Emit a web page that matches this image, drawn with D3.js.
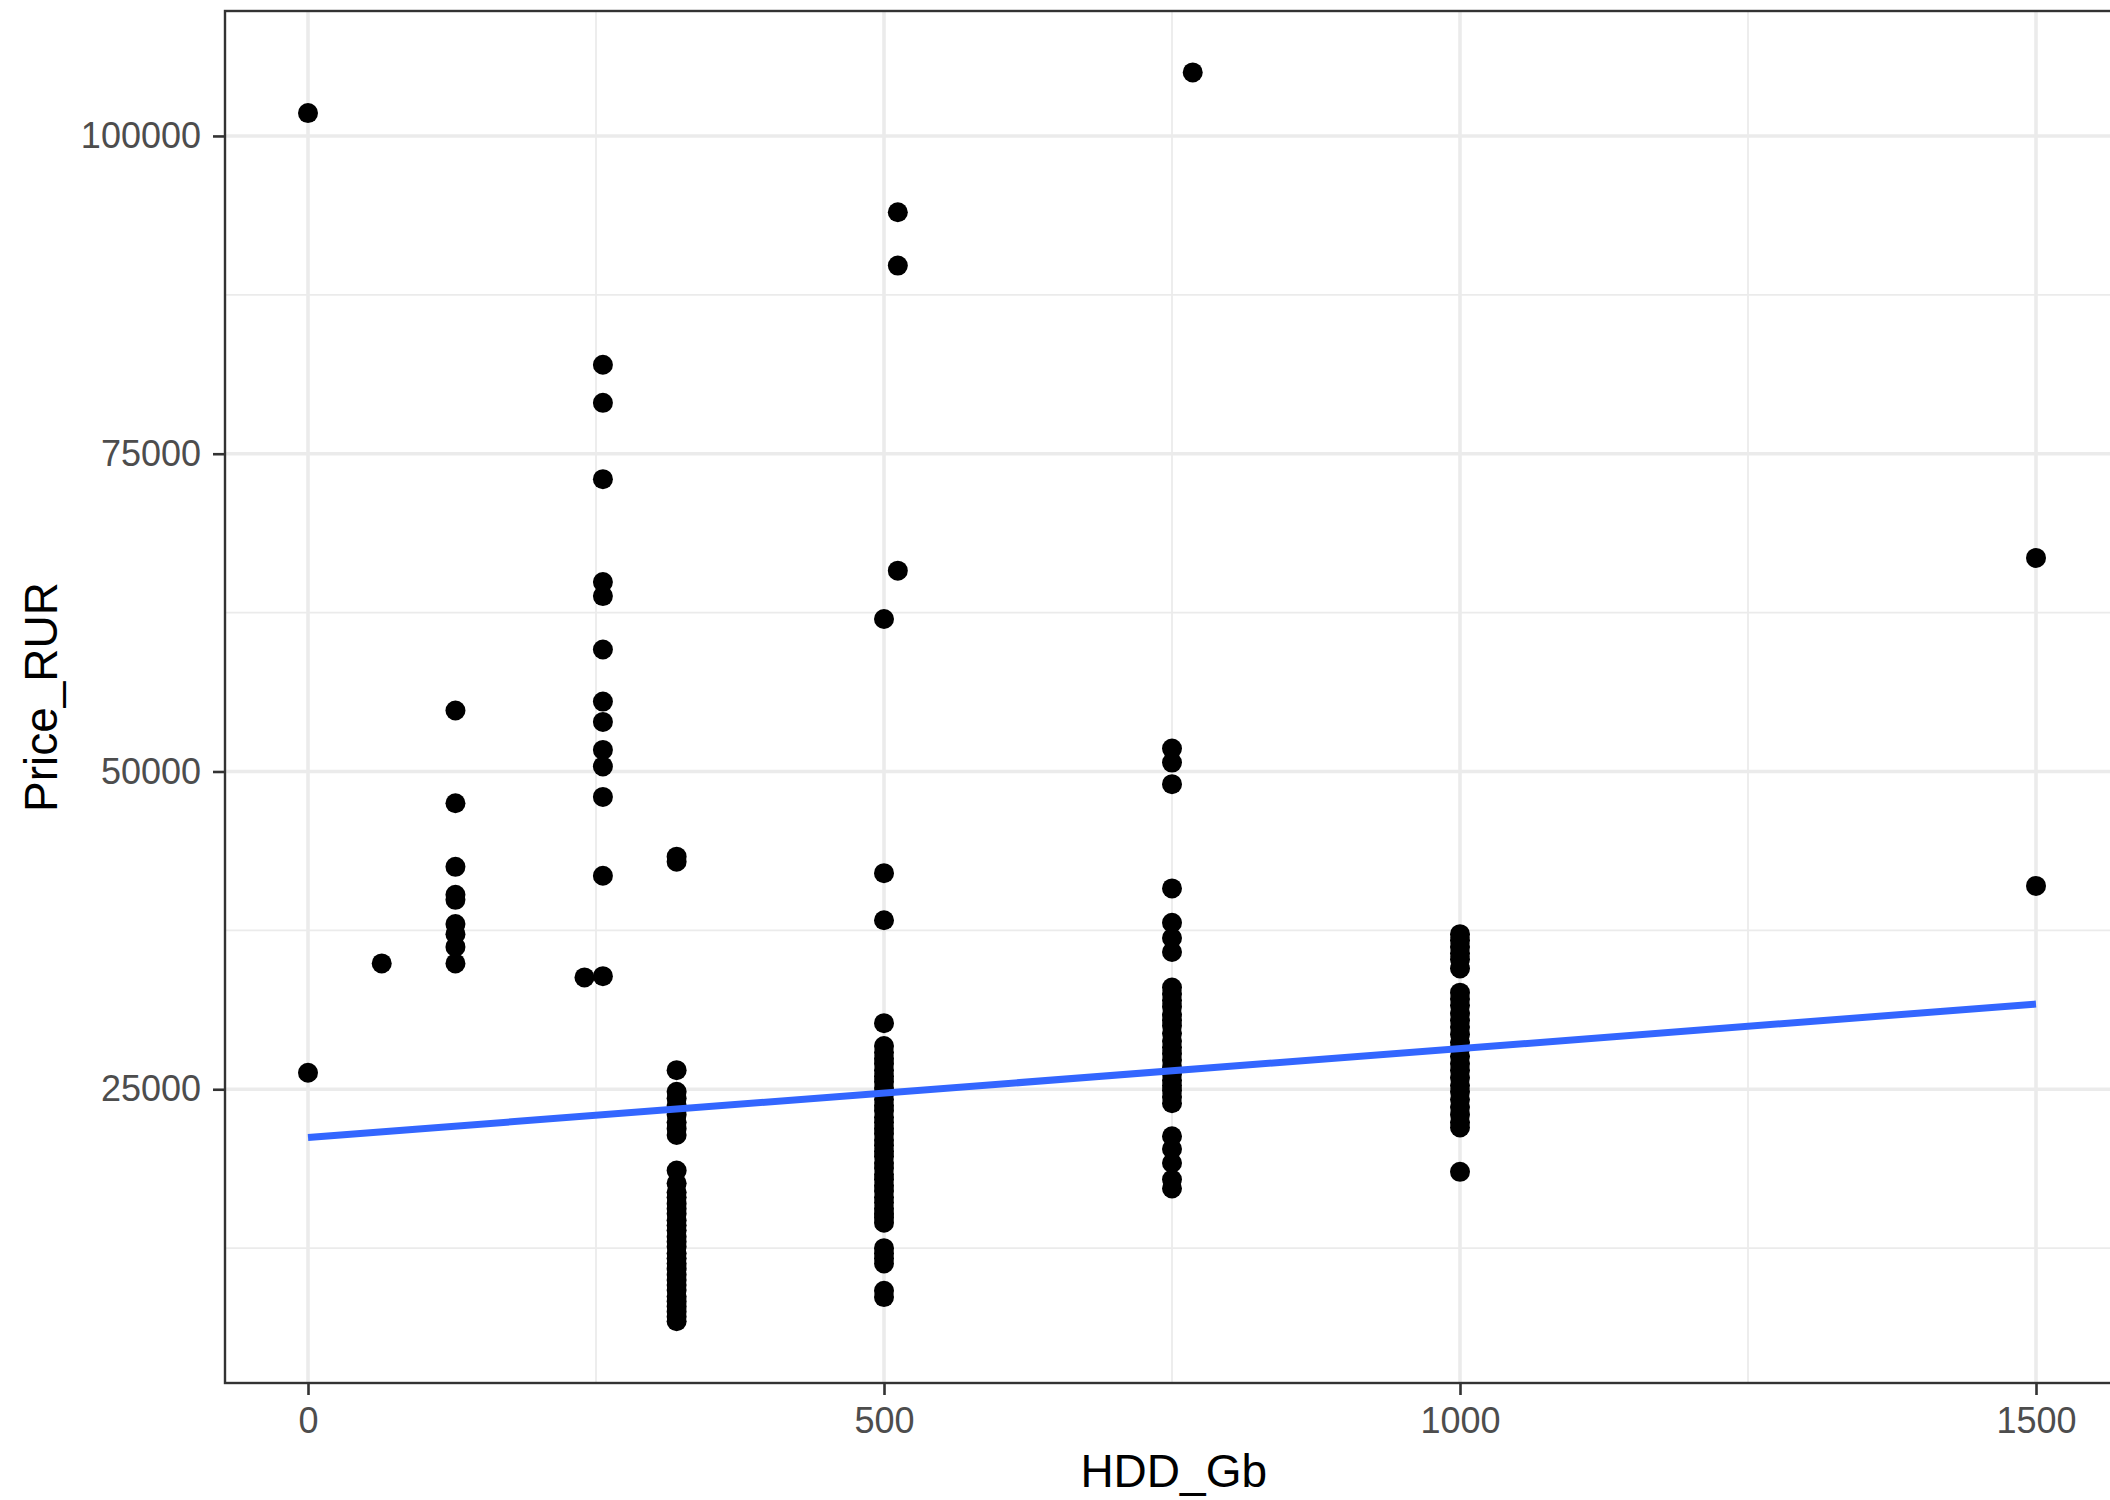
<!DOCTYPE html>
<html>
<head>
<meta charset="utf-8">
<script src="https://d3js.org/d3.v7.min.js"></script>
<style>
body { margin: 0; background: #fff; }
text { font-family: "Liberation Sans", Arial, sans-serif; }
</style>
</head>
<body>
<script>

// prices (RUR), one list per HDD size
var price0 = [101800, 26300];
var price64 = [34900];
var price128 = [54800, 47500, 42500, 40300, 39900, 38000, 37200, 36200, 34900];
var price240 = [33800];
var price256 = [82000, 79000, 73000, 64900, 63800, 59600, 55500, 53900, 51700, 50400, 48000, 41800, 33900];
var price320 = [43300, 42900, 26500, 24800, 24300, 23700, 23000, 22400, 21900, 21400,
  18600, 17600, 16900, 16500, 16000, 15600, 15200, 14700, 14300, 13900, 13400, 13000, 12600,
  12100, 11700, 11300, 10900, 10400, 10000, 9600, 9200, 8700, 8300, 7900, 7500, 7100, 6750];
var price500 = [62000, 42000, 38300, 30200, 28400, 27900, 27400, 27000, 26500, 26000, 25600,
  25100, 24700, 24200, 23700, 23300, 22800, 22400, 21900, 21500, 21000, 20600, 20100, 19700,
  19200, 18800, 18300, 17900, 17400, 17000, 16500, 16100, 15600, 15200, 14900, 14500,
  12500, 12100, 11700, 11300, 9150, 8650];
var price512 = [94000, 89800, 65800];
var price750 = [51800, 50700, 49000, 40800, 38100, 36900, 35800, 33000, 32500, 32000, 31500,
  30900, 30400, 30000, 29400, 28800, 28300, 27800, 27300, 26700, 26200, 25700, 25300, 24900,
  24400, 23900, 21300, 20300, 19200, 17900, 17200];
var price768 = [105000];
var price1000 = [37200, 36700, 36200, 35700, 35200, 34500, 32600, 32100, 31600, 31000, 30400,
  29900, 29300, 28700, 28200, 27600, 27000, 26500, 25900, 25300, 24800, 24200, 23600, 23000,
  22400, 22000, 18500];
var price1500 = [66800, 41000];

var groups = [[0, price0], [64, price64], [128, price128], [240, price240], [256, price256],
  [320, price320], [500, price500], [512, price512], [750, price750], [768, price768],
  [1000, price1000], [1500, price1500]];

// linear fit, ends
var fitHdd = [0, 1500];
var fitPrice = [21200, 31700];

var xTicks = [0, 500, 1000, 1500];
var xMinor = [250, 750, 1250];
var yTicks = [25000, 50000, 75000, 100000];
var yMinor = [12500, 37500, 62500, 87500];

let width = 2110, height = 1500;

var points = [];
groups.forEach(function(g) {
  g[1].forEach(function(p) { points.push({hdd: g[0], price: p}); });
});

var x = d3.scaleLinear().domain([0, 1500]).range([308, 2036]);
var y = d3.scaleLinear().domain([1890, 109830]).range([1383, 11]);
let pLeft = 225, pRight = x(1575), pTop = 11, pBottom = 1383;

var svg = d3.select("body").append("svg").attr("width", width).attr("height", height);

// grid
var grid = svg.append("g");
grid.selectAll(".vminor").data(xMinor).enter().append("line")
  .attr("x1", d => x(d)).attr("x2", d => x(d)).attr("y1", pTop).attr("y2", pBottom)
  .attr("stroke", "#ebebeb").attr("stroke-width", 1.8);
grid.selectAll(".hminor").data(yMinor).enter().append("line")
  .attr("x1", pLeft).attr("x2", pRight).attr("y1", d => y(d)).attr("y2", d => y(d))
  .attr("stroke", "#ebebeb").attr("stroke-width", 1.8);
grid.selectAll(".vmajor").data(xTicks).enter().append("line")
  .attr("x1", d => x(d)).attr("x2", d => x(d)).attr("y1", pTop).attr("y2", pBottom)
  .attr("stroke", "#ebebeb").attr("stroke-width", 3.6);
grid.selectAll(".hmajor").data(yTicks).enter().append("line")
  .attr("x1", pLeft).attr("x2", pRight).attr("y1", d => y(d)).attr("y2", d => y(d))
  .attr("stroke", "#ebebeb").attr("stroke-width", 3.6);

// points
svg.append("g").selectAll("circle").data(points).enter().append("circle")
  .attr("cx", d => x(d.hdd)).attr("cy", d => y(d.price)).attr("r", 10)
  .attr("fill", "#000");

// fit line
var line = d3.line().x(d => x(d[0])).y(d => y(d[1]));
svg.append("path").datum(d3.zip(fitHdd, fitPrice))
  .attr("d", line).attr("fill", "none")
  .attr("stroke", "#3366ff").attr("stroke-width", 7);

// panel border
svg.append("rect").attr("x", pLeft).attr("y", pTop)
  .attr("width", pRight - pLeft).attr("height", pBottom - pTop)
  .attr("fill", "none").attr("stroke", "#333").attr("stroke-width", 2.4);

// axes
function styleAxis(g) {
  g.select(".domain").remove();
  g.attr("font-family", "Liberation Sans, Arial, sans-serif").attr("font-size", 36);
  g.selectAll(".tick line").attr("stroke", "#333").attr("stroke-width", 2.6);
  g.selectAll(".tick text").attr("fill", "#4d4d4d");
}
svg.append("g").attr("transform", "translate(0," + pBottom + ")")
  .call(d3.axisBottom(x).tickValues(xTicks).tickSize(12).tickPadding(12).tickFormat(d3.format("d")))
  .call(styleAxis);
svg.append("g").attr("transform", "translate(" + pLeft + ",0)")
  .call(d3.axisLeft(y).tickValues(yTicks).tickSize(12).tickPadding(12).tickFormat(d3.format("d")))
  .call(styleAxis);

// titles
svg.append("text").attr("x", (pLeft + pRight) / 2).attr("y", 1487)
  .attr("text-anchor", "middle").attr("font-size", 46).attr("fill", "#000").text("HDD_Gb");
svg.append("text").attr("transform", "translate(57," + (pTop + pBottom) / 2 + ") rotate(-90)")
  .attr("text-anchor", "middle").attr("font-size", 46).attr("fill", "#000").text("Price_RUR");

</script>
</body>
</html>
